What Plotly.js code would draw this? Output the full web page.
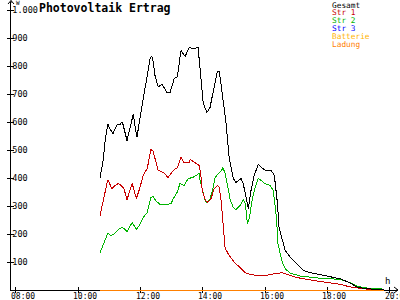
<!DOCTYPE html>
<html><head><meta charset="utf-8">
<script src="https://cdn.plot.ly/plotly-3.0.1.min.js"></script>
<style>html,body{margin:0;padding:0;background:#fff}#chart{width:400px;height:300px}
.scatterlayer path.js-line{shape-rendering:crispEdges}</style>
</head><body><div id="chart"></div>
<script>
// ---- data ----
const seriesNames = ["Gesamt", "Str 1", "Str 2", "Str 3", "Batterie", "Ladung"];

const gesamtTimes = ["10:42","10:48","10:52","10:57","11:01","11:07","11:15","11:20","11:25","11:34","11:46","11:53","12:05","12:13","12:19","12:22","12:24","12:28","12:34","12:42","12:51","12:57","13:05","13:11","13:18","13:26","13:34","13:43","13:51","14:01","14:08","14:14","14:22","14:28","14:32","14:37","14:45","14:51","14:55","14:59","15:04","15:14","15:18","15:24","15:28","15:33","15:39","15:47","15:55","16:02","16:12","16:18","16:24","16:27","16:33","16:39","16:49","17:00","17:14","17:27","17:47","18:06","18:25","18:44","18:58","19:17","19:50"];
const gesamtValues = [402,462,534,594,575,559,591,590,601,534,627,545,680,760,830,834,820,766,726,734,705,705,755,762,855,834,866,862,866,666,634,652,723,780,780,712,595,470,427,398,384,398,380,320,291,355,409,448,434,427,427,409,309,223,177,141,116,95,70,62,54,46,40,25,10,4,2];

const str1Times = ["10:42","10:48","10:52","10:57","11:05","11:11","11:17","11:23","11:28","11:34","11:44","11:52","11:59","12:05","12:13","12:20","12:24","12:34","12:44","12:53","13:03","13:11","13:18","13:24","13:34","13:36","13:45","13:53","13:56","13:59","14:05","14:10","14:16","14:22","14:28","14:32","14:36","14:39","14:43","14:51","15:02","15:12","15:22","15:33","15:55","16:12","16:27","16:33","16:49","17:00","17:27","17:47","18:25","18:44","18:58","19:17","19:50"];
const str1Values = [266,320,355,394,362,373,380,373,362,323,380,327,366,409,434,501,498,427,420,402,427,437,473,455,455,466,455,445,416,355,320,313,327,362,373,366,309,223,150,123,97,80,62,55,50,56,62,62,52,45,36,30,20,11,7,3,1];

const str2Times = ["10:42","10:46","10:50","10:54","10:57","11:03","11:09","11:15","11:23","11:28","11:34","11:44","11:52","11:59","12:05","12:13","12:17","12:20","12:24","12:30","12:38","12:51","12:59","13:03","13:11","13:16","13:24","13:32","13:41","13:49","13:53","13:55","14:01","14:05","14:08","14:14","14:20","14:24","14:30","14:36","14:39","14:43","14:49","14:53","14:59","15:04","15:12","15:18","15:22","15:26","15:30","15:35","15:41","15:47","15:53","16:00","16:10","16:16","16:22","16:25","16:31","16:35","16:41","16:49","17:08","17:27","17:47","18:25","18:44","18:58","19:09","19:50"];
const str2Values = [134,152,166,191,202,195,200,212,223,220,209,241,216,234,259,277,309,330,334,318,305,305,309,325,350,380,373,398,402,412,416,390,340,318,313,325,366,402,416,427,437,416,362,320,295,287,302,323,309,237,259,320,366,398,391,380,373,355,259,166,116,90,72,60,50,46,42,38,26,14,8,3];

const str3Times = ["10:42","19:50"];
const str3Values = [0,0];
const batterieTimes = ["10:42","19:50"];
const batterieValues = [0,0];
const ladungTimes = ["10:42","19:50"];
const ladungValues = [0,0];

const seriesColors = ["#000000","#c80000","#00b400","#0000ff","#ffb400","#ff8000"];

const xTickVals = [8,10,12,14,16,18,20];
const xTickText = ["08:00","10:00","12:00","14:00","16:00","18:00","20:00"];
const yTickVals = [100,200,300,400,500,600,700,800,900,1000];
const yTickText = ["100","200","300","400","500","600","700","800","900","1.000"];

// ---- build ----
function toHours(t){const p=t.split(':').map(Number);return p[0]+p[1]/60;}
const allTimes=[gesamtTimes,str1Times,str2Times,str3Times,batterieTimes,ladungTimes];
const allValues=[gesamtValues,str1Values,str2Values,str3Values,batterieValues,ladungValues];
const drawOrder=[3,4,2,1,0,5];
const traces=drawOrder.map(i=>({
  type:'scatter',mode:'lines',name:seriesNames[i],
  x:allTimes[i].map(toHours),y:allValues[i],
  line:{color:seriesColors[i],width:1},hoverinfo:'skip',cliponaxis:false
}));
traces.push({type:'scatter',mode:'lines',x:[],y:[],xaxis:'x2',yaxis:'y2',showlegend:false,hoverinfo:'skip'});
traces.push({type:'scatter',mode:'lines',x:[],y:[],xaxis:'x3',yaxis:'y2',showlegend:false,hoverinfo:'skip'});

const mono="DejaVu Sans Mono";
const L=11,R=3,T=2,B=9;
const pw=400-L-R, ph=300-T-B;
const XR=[7.84,20.24], YR=[-1/0.28,1028.57];
function px2paperX(px){return (px-L)/pw;}
function px2paperY(py){return (300-B-py)/ph;}

const legendY=[5,12.8,20.6,28.4,36.2,44];
const annotations=seriesNames.map((n,i)=>({
  text:n,xref:'paper',yref:'paper',x:px2paperX(330),y:px2paperY(legendY[i]),
  xanchor:'left',yanchor:'middle',showarrow:false,
  font:{family:mono,size:7.8,color:seriesColors[i]}
}));
annotations.push({text:'W',xref:'paper',yref:'paper',x:px2paperX(14),y:px2paperY(2),xanchor:'left',yanchor:'middle',showarrow:false,font:{family:mono,size:6,color:'#000'}});
annotations.push({text:'h',xref:'paper',yref:'paper',x:px2paperX(387),y:px2paperY(281),xanchor:'center',yanchor:'middle',showarrow:false,font:{family:mono,size:9,color:'#000'}});
// x tick labels (placed just under the axis, offset right of the tick like the reference)
xTickVals.forEach((v,i)=>annotations.push({text:xTickText[i],xref:'x',yref:'paper',x:v,xshift:7,y:px2paperY(296),
  xanchor:'center',yanchor:'middle',showarrow:false,font:{family:mono,size:8,color:'#000'}}));

const shapes=[
  {type:'path',xref:'paper',yref:'paper',path:`M ${px2paperX(8)} ${px2paperY(4)} L ${px2paperX(11)} ${px2paperY(0.5)} L ${px2paperX(14)} ${px2paperY(4)} M ${px2paperX(11)} ${px2paperY(0.5)} L ${px2paperX(11)} ${px2paperY(3)}`,line:{color:'#000',width:1}},
  {type:'path',xref:'paper',yref:'paper',path:`M ${px2paperX(394)} ${px2paperY(287)} L ${px2paperX(398)} ${px2paperY(290)} L ${px2paperX(394)} ${px2paperY(293)} M ${px2paperX(396)} ${px2paperY(290)} L ${px2paperX(398)} ${px2paperY(290)}`,line:{color:'#000',width:1}}
];

const axisPos=px2paperY(290);
const layout={
  width:400,height:300,margin:{l:L,r:R,t:T,b:B,pad:0},
  paper_bgcolor:'#fff',plot_bgcolor:'#fff',showlegend:false,
  title:{text:'Photovoltaik Ertrag',font:{family:mono,size:11.5,weight:'bold',color:'#000'},
    x:39/400,xanchor:'left',xref:'container',y:1-7.5/300,yref:'container',yanchor:'middle'},
  xaxis:{range:XR,showgrid:false,zeroline:false,showline:false,
    tickmode:'array',tickvals:xTickVals,ticks:'',showticklabels:false,fixedrange:true},
  yaxis:{range:YR,showgrid:false,zeroline:true,zerolinecolor:'#000',zerolinewidth:1,
    showline:true,linecolor:'#000',linewidth:1,layer:'below traces',
    tickmode:'array',tickvals:yTickVals,ticktext:yTickText,ticks:'outside',ticklen:3,tickcolor:'#000',
    ticklabelposition:'inside',tickfont:{family:mono,size:8.5,color:'#000'},fixedrange:true},
  xaxis2:{overlaying:'x',anchor:'free',position:axisPos,range:XR,showgrid:false,zeroline:false,showline:false,
    tickmode:'array',tickvals:xTickVals,ticks:'inside',ticklen:3,tickcolor:'#000',showticklabels:false},
  xaxis3:{overlaying:'x',anchor:'free',position:axisPos,range:XR,showgrid:false,zeroline:false,showline:false,
    tickmode:'array',tickvals:xTickVals,ticks:'outside',ticklen:2,tickcolor:'#000',showticklabels:false},
  yaxis2:{overlaying:'y',anchor:'x2',range:YR,showgrid:false,zeroline:false,showline:false,
    tickmode:'array',tickvals:yTickVals,ticks:'inside',ticklen:3,tickcolor:'#000',showticklabels:false},
  annotations:annotations,shapes:shapes
};
Plotly.newPlot('chart',traces,layout,{staticPlot:true,displayModeBar:false});
</script></body></html>
